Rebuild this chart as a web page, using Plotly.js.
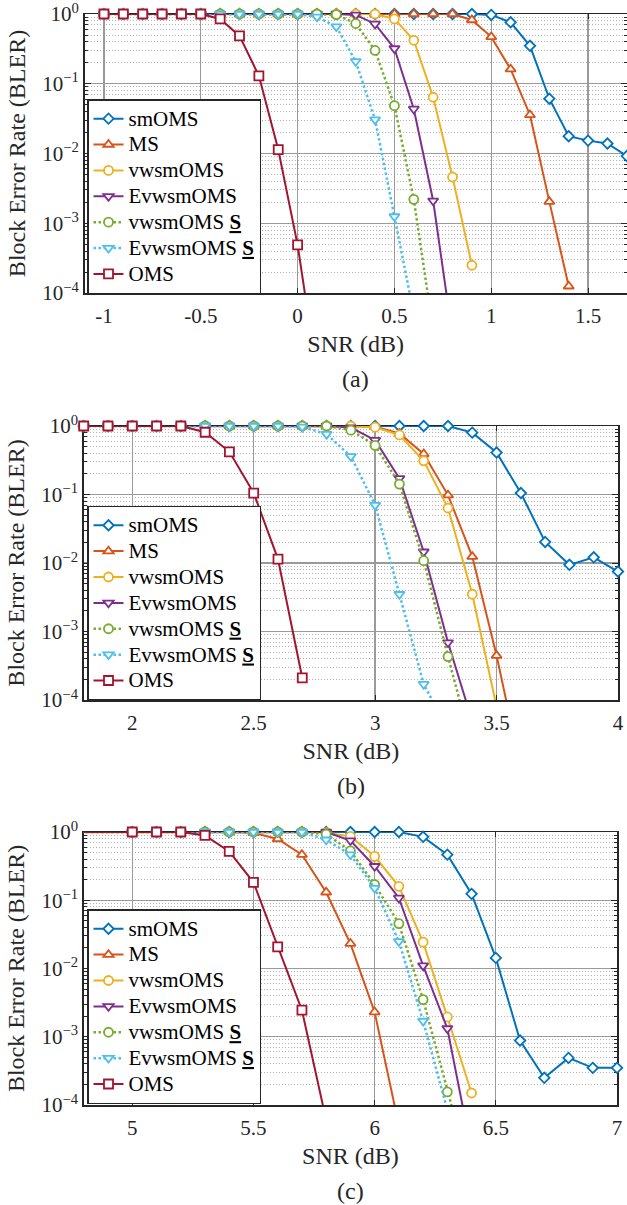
<!DOCTYPE html>
<html>
<head>
<meta charset="utf-8">
<script src="https://cdn.plot.ly/plotly-3.0.1.min.js"></script>
<style>html,body{margin:0;padding:0;background:#fff;}</style>
</head>
<body>
<div id="chart" style="width:627px;height:1205px;"></div>
<script>
// ---------------- DATA ----------------
// Panel (a)
const snrA = [-1.0,-0.9,-0.8,-0.7,-0.6,-0.5,-0.4,-0.3,-0.2,-0.1,0.0,0.1,0.2,0.3,0.4,0.5,0.6,0.7,0.8,0.9,1.0,1.1,1.2,1.3,1.4,1.5,1.6,1.7];
const smOMS_a       = [1,1,1,1,1,1,1,1,1,1,1,1,1,1,1,1,1,1,1,1,0.97,0.76,0.35,0.061,0.0177,0.0153,0.0139,0.0092];
const MS_a          = [1,1,1,1,1,1,1,1,1,1,1,1,1,1,1,1,1,1,1,0.82,0.47,0.162,0.0357,0.00204,1.25e-4];
const vwsmOMS_a     = [1,1,1,1,1,1,1,1,1,1,1,1,1,1,1,0.85,0.42,0.064,0.0046,2.5e-4];
const EvwsmOMS_a    = [1,1,1,1,1,1,1,1,1,1,1,1,1,0.97,0.72,0.32,0.0435,0.0021,2.4e-5];
const vwsmOMS_S_a   = [1,1,1,1,1,1,1,1,1,1,1,1,0.98,0.73,0.30,0.0485,0.0022,2.9e-5];
const EvwsmOMS_S_a  = [1,1,1,1,1,1,1,1,1,1,1,0.91,0.66,0.21,0.0306,0.00125,5e-5];
const OMS_a         = [1,1,1,1,1,1,0.85,0.485,0.13,0.0114,4.9e-4,7e-6];
const xTickValsA = [-1,-0.5,0,0.5,1,1.5];
const xTickTextA = ['-1','-0.5','0','0.5','1','1.5'];

// Panel (b)
const snrB = [1.8,1.9,2.0,2.1,2.2,2.3,2.4,2.5,2.6,2.7,2.8,2.9,3.0,3.1,3.2,3.3,3.4,3.5,3.6,3.7,3.8,3.9,4.0];
const smOMS_b       = [1,1,1,1,1,1,1,1,1,1,1,1,1,1,1,1,0.8,0.41,0.105,0.0203,0.0094,0.0121,0.0075];
const MS_b          = [1,1,1,1,1,1,1,1,1,1,1,1,0.98,0.78,0.39,0.098,0.0124,4.45e-4,1e-5];
const vwsmOMS_b     = [1,1,1,1,1,1,1,1,1,1,1,1,0.96,0.74,0.31,0.0635,0.0035,8e-5];
const EvwsmOMS_b    = [1,1,1,1,1,1,1,1,1,1,1,0.95,0.62,0.172,0.0146,6.9e-4,4.9e-5];
const vwsmOMS_S_b   = [1,1,1,1,1,1,1,1,1,1,1,0.87,0.52,0.142,0.0108,4.3e-4,2e-5];
const EvwsmOMS_S_b  = [1,1,1,1,1,1,1,1,1,0.97,0.76,0.36,0.070,0.0035,1.7e-4,3.7e-5];
const OMS_b         = [1,1,1,1,1,0.81,0.42,0.105,0.0114,2.1e-4];
const xTickValsB = [2,2.5,3,3.5,4];
const xTickTextB = ['2','2.5','3','3.5','4'];

// Panel (c)
const snrC = [4.5,5.0,5.1,5.2,5.3,5.4,5.5,5.6,5.7,5.8,5.9,6.0,6.1,6.2,6.3,6.4,6.5,6.6,6.7,6.8,6.9,7.0];
const smOMS_c       = [1,1,1,1,1,1,1,1,1,1,1,1,1,0.85,0.466,0.124,0.0143,8.8e-4,2.5e-4,4.9e-4,3.5e-4,3.5e-4];
const MS_c          = [1,1,1,1,1,1,0.97,0.79,0.466,0.131,0.0232,0.0023,5e-5];
const vwsmOMS_c     = [1,1,1,1,1,1,1,1,1,0.98,0.86,0.44,0.16,0.0243,0.00195,1.5e-4];
const EvwsmOMS_c    = [1,1,1,1,1,1,1,1,1,1,0.75,0.315,0.108,0.011,0.00132,2.1e-5];
const vwsmOMS_S_c   = [1,1,1,1,1,1,1,1,1,0.93,0.53,0.17,0.0455,0.0035,1.56e-4,8e-6];
const EvwsmOMS_S_c  = [1,1,1,1,1,1,1,1,1,0.77,0.466,0.151,0.025,0.0017,8.5e-5];
const OMS_c         = [1,1,1,1,0.89,0.52,0.183,0.0207,0.00245,6e-5];
const xTickValsC = [5,5.5,6,6.5,7];
const xTickTextC = ['5','5.5','6','6.5','7'];

// Shared
const seriesNames = ['smOMS','MS','vwsmOMS','EvwsmOMS','vwsmOMS <b><u>S</u></b>','EvwsmOMS <b><u>S</u></b>','OMS'];
const yTickVals = [1e-4,1e-3,1e-2,1e-1,1];
const yTickText = ['10<sup>\u22124</sup>','10<sup>\u22123</sup>','10<sup>\u22122</sup>','10<sup>\u22121</sup>','10<sup>0</sup>'];
const panelLabels = ['(a)','(b)','(c)'];

// ---------------- STYLE ----------------
const FONT = 'Liberation Serif, Times New Roman, serif';
const TXT = '#262626';
const colors  = ['#0072BD','#D95319','#EDB120','#7E2F8E','#77AC30','#4DBEEE','#A2142F'];
const symbols = ['diamond','triangle-up','circle','triangle-down','circle','triangle-down','square'];
const msizes  = [8,9,9,9,9,9,9];
const dashes  = ['solid','solid','solid','solid','2.5px,2.5px','2.5px,2.5px','solid'];
const lwidths = [2,2,2,2,2.5,2.5,2];

const W = 627, H = 1205;
// pixel geometry of each plot box [left,right,top,bottom]
const boxes = [[84.6,626.8,14,293],[83.7,618,426,700],[83.8,617,832,1105]];
const legendTops = [99.2,505.8,909.3];

const panels = [
  {snr:snrA, ser:[smOMS_a,MS_a,vwsmOMS_a,EvwsmOMS_a,vwsmOMS_S_a,EvwsmOMS_S_a,OMS_a], range:[-1.1,1.7], tv:xTickValsA, tt:xTickTextA},
  {snr:snrB, ser:[smOMS_b,MS_b,vwsmOMS_b,EvwsmOMS_b,vwsmOMS_S_b,EvwsmOMS_S_b,OMS_b], range:[1.8,4.0], tv:xTickValsB, tt:xTickTextB},
  {snr:snrC, ser:[smOMS_c,MS_c,vwsmOMS_c,EvwsmOMS_c,vwsmOMS_S_c,EvwsmOMS_S_c,OMS_c], range:[4.8,7.0], tv:xTickValsC, tt:xTickTextC}
];

const minorVals = [];
for (let d = -4; d < 0; d++) for (let k = 2; k <= 9; k++) minorVals.push(k * Math.pow(10, d));

const traces = [];
const layout = {
  width: W, height: H,
  margin: {l:0, r:0, t:0, b:0},
  paper_bgcolor: '#fff', plot_bgcolor: '#fff',
  font: {family: FONT, color: TXT},
  annotations: []
};

panels.forEach((p, i) => {
  const sfx = i === 0 ? '' : String(i + 1);
  const xa = 'x' + sfx, ya = 'y' + sfx;
  const legId = 'legend' + sfx;
  p.ser.forEach((y, j) => {
    traces.push({
      type: 'scatter', mode: 'lines+markers',
      x: p.snr.slice(0, y.length), y: y,
      xaxis: xa, yaxis: ya, legend: legId,
      name: '<span style="font-size:21px">' + seriesNames[j] + '</span>',
      line: {color: colors[j], width: lwidths[j], dash: dashes[j]},
      marker: {symbol: symbols[j], size: msizes[j], color: '#ffffff', line: {color: colors[j], width: 1.8}},
      cliponaxis: false
    });
  });
  const b = boxes[i];
  layout['xaxis' + sfx] = {
    type: 'linear', range: p.range, domain: [b[0] / W, b[1] / W], anchor: ya,
    tickmode: 'array', tickvals: p.tv, ticktext: p.tt,
    ticks: 'inside', ticklen: 5, tickwidth: 1, tickcolor: TXT,
    showline: true, linecolor: TXT, linewidth: 1.5, mirror: 'ticks',
    showgrid: true, gridcolor: '#9a9a9a', gridwidth: 1.3, zeroline: false,
    tickfont: {family: FONT, size: 21, color: TXT}, ticklabelstandoff: 3,
    ticklabeloverflow: 'allow',
    layer: 'below traces',
    title: {text: 'SNR (dB)', font: {family: FONT, size: 24, color: TXT}, standoff: 8}
  };
  layout['yaxis' + sfx] = {
    type: 'log', range: [-4, 0], domain: [1 - b[3] / H, 1 - b[2] / H], anchor: xa,
    tickmode: 'array', tickvals: yTickVals, ticktext: yTickText,
    ticks: 'inside', ticklen: 6, tickwidth: 1, tickcolor: TXT,
    showline: true, linecolor: TXT, linewidth: 1.5, mirror: 'ticks',
    showgrid: true, gridcolor: '#9a9a9a', gridwidth: 1.3, zeroline: false,
    tickfont: {family: FONT, size: 21, color: TXT},
    ticklabeloverflow: 'allow',
    layer: 'below traces',
    minor: {tickmode: 'array', tickvals: minorVals, ticks: 'inside', ticklen: 3, tickcolor: TXT,
            showgrid: true, gridcolor: '#b4b4b4', gridwidth: 1, griddash: '1px,2px'},
    title: {text: 'Block Error Rate (BLER)', font: {family: FONT, size: 24, color: TXT}, standoff: 10}
  };
  layout[legId] = {
    x: 87 / W, y: 1 - legendTops[i] / H, xanchor: 'left', yanchor: 'top',
    bgcolor: '#ffffff', bordercolor: TXT, borderwidth: 1.5,
    font: {family: FONT, size: 17.6, color: '#000'},
    traceorder: 'normal', itemsizing: 'trace'
  };
  layout.annotations.push({
    text: panelLabels[i], xref: 'paper', yref: 'paper',
    x: ((b[0] + b[1]) / 2) / W, y: 1 - (b[3] + 86) / H,
    xanchor: 'center', yanchor: 'middle', showarrow: false,
    font: {family: FONT, size: 24, color: TXT}
  });
});

Plotly.newPlot('chart', traces, layout, {displayModeBar: false, staticPlot: true});
</script>
</body>
</html>
